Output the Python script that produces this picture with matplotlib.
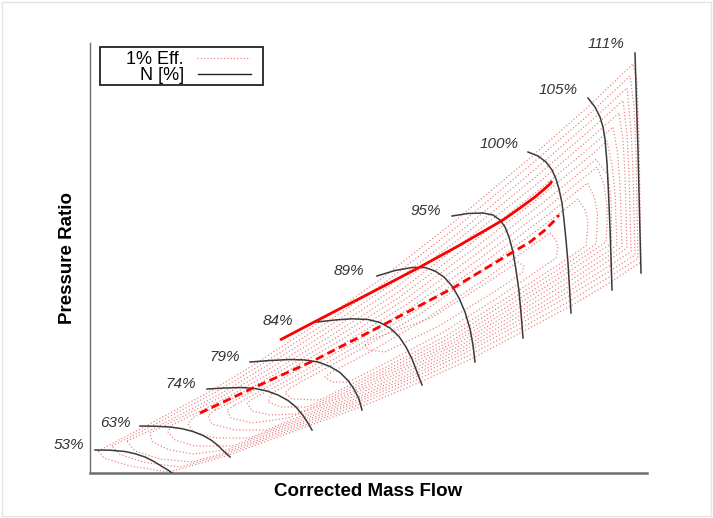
import matplotlib
matplotlib.use('Agg')
import matplotlib.pyplot as plt
from matplotlib.patches import Rectangle
from matplotlib.lines import Line2D

plt.rcParams['font.family'] = ['Liberation Sans', 'DejaVu Sans']

# ---------------- data (flow units, pressure-ratio units) ----------------
speed_names = ['53%', '63%', '74%', '79%', '84%', '89%', '95%', '100%', '105%', '111%']

speed_flow = [
    [5, 20, 35, 45, 55, 64, 72, 78, 82],
    [50, 65, 80, 92, 103, 113, 121, 128, 134, 138, 140],
    [117, 135, 152, 165, 177, 188, 198, 206, 213, 218, 222],
    [160, 180, 200, 215, 228, 240, 250, 258, 264, 269, 272],
    [227, 245, 262, 278, 290, 300, 309, 316, 322, 327, 332],
    [287, 305, 322, 335, 345, 354, 362, 369, 375, 380, 383, 385],
    [362, 378, 393, 403, 410, 415, 419, 423, 426, 429, 431, 433],
    [438, 448, 456, 462, 466, 469, 472, 474, 476, 478, 479.5, 481],
    [498, 505, 510, 513, 515, 517, 518.5, 520, 521, 522],
    [545, 546.5, 548, 549.5, 551],
]
speed_pr = [
    [23, 22.8, 21.5, 19.3, 16, 11.5, 6.5, 3, 0],
    [47, 46.8, 46, 44.3, 41.5, 37.5, 33, 27.5, 21.5, 18, 16],
    [84, 85, 85.5, 84.5, 82, 78, 72.5, 66, 57.5, 50, 43],
    [111, 112.5, 113.5, 113, 111, 106.5, 100.5, 92.5, 84, 74, 63],
    [151, 153, 154.2, 153.5, 150.5, 145, 136.5, 126, 114, 101, 88],
    [197, 202.5, 205.5, 205.5, 202, 196, 187, 175, 161, 144, 128, 111],
    [257, 259.5, 260, 258, 253, 246, 236, 221, 203, 182, 160, 135],
    [321, 317, 311, 303, 294, 284, 270, 253, 233, 210, 185, 160],
    [375, 366, 356, 346, 334, 310, 280, 245, 215, 183],
    [420, 370, 323, 260, 200],
]

# label anchor positions for the speed lines
label_flow = [-21, 25, 91, 135, 188, 259, 336, 409, 468, 516]
label_pr = [28, 50, 89, 116, 152, 202, 262, 329, 383, 429]

# surge line and operating (dashed) line
surge_flow = [190, 230, 290, 330, 370, 413, 430, 445, 455, 460, 462]
surge_pr = [133, 154, 185, 206, 228, 253, 265, 276, 284.5, 289, 292]
oper_flow = [110, 163, 223, 293, 363, 423, 440, 455, 464, 469]
oper_pr = [60, 85, 112, 148, 185, 221, 231, 243, 252, 258]

# 1 % efficiency contours (digitised loops, outer -> inner)
eff_flow = [
    [8, 54, 121, 165, 225, 291, 365, 440, 499, 543, 547, 549, 550, 551,
     521, 479, 430, 381, 328, 268, 218, 136, 79, 40, 14, 8],
    [22, 57, 125, 169, 229, 295, 368, 441, 500, 540, 544, 546, 547, 548,
     520, 478, 428, 378, 324, 264, 215, 133, 90, 55, 30, 22],
    [37, 61, 130, 173, 233, 299, 371, 443, 501, 537, 541, 543, 544, 545,
     520, 477, 426, 375, 321, 261, 212, 131, 102, 70, 45, 37],
    [60, 134, 177.5, 237.5, 303, 373.5, 445, 502, 533, 537, 539, 540, 541,
     519, 476, 424, 372.5, 318, 258, 209, 136, 103, 78, 62, 60],
    [82, 138, 182, 242, 307, 376, 447, 503, 529, 533, 535, 536, 537,
     518, 475, 422, 370, 315, 255, 206, 142, 105, 85, 78, 82],
    [103.5, 142, 186.5, 246.5, 310.5, 379, 448.5, 504, 523, 527.5, 530, 531, 532,
     517.5, 473.5, 420.5, 367.5, 312.5, 252.5, 203.5, 159.5, 125, 103.5, 98, 103.5],
    [125, 146, 191, 251, 314, 382, 450, 505, 517, 522, 525, 526, 527,
     517, 472, 419, 365, 310, 250, 201, 177, 145, 122, 118, 125],
    [145, 195.5, 255.5, 318, 385, 452, 506, 518, 521, 521.5, 521.5,
     516, 471, 417, 363, 307, 247, 198, 162, 141, 137, 145],
    [164, 200, 260, 322, 388, 454, 507, 514, 517, 517, 516,
     470, 415, 361, 304, 244, 206, 180, 162, 157, 164],
    [182, 204.5, 264.5, 326, 390.5, 455.5, 497.5, 504.5, 507.5, 507, 506,
     469, 413.5, 358.5, 301, 241, 217, 191, 178, 182],
    [200, 209, 269, 330, 393, 457, 488, 495, 498, 497, 496,
     468, 412, 356, 298, 238, 229, 202, 195, 200],
    [240, 276, 336, 398, 460, 466, 468, 466, 409, 352, 294, 258, 242, 235, 240],
    [275, 280, 341, 401, 428, 434, 432, 407, 349, 295, 278, 275],
]
eff_pr = [
    [22, 46, 82, 109, 148, 194, 252, 315, 367, 409, 393, 333, 273, 211,
     191, 166, 140, 114, 90, 65, 47, 17, 1, 7, 15, 22],
    [27, 44.5, 80.5, 107, 145.5, 190.5, 247, 308.5, 359.5, 397, 368, 318, 265.5, 214.5,
     196.5, 171, 143.5, 117, 92, 66.5, 48, 18, 6, 10.5, 18.5, 27],
    [32, 43, 79, 105, 143, 187, 242, 302, 352, 385, 343, 303, 258, 218,
     202, 176, 147, 120, 94, 68, 49, 19, 11, 14, 22, 32],
    [40, 77.5, 103, 140.5, 183.5, 237.5, 295.5, 344.5, 372.5, 338, 300.5, 260.5, 221.5,
     207, 180, 150, 122, 95.5, 69, 50, 23, 19, 23.5, 31.5, 40],
    [48, 76, 101, 138, 180, 233, 289, 337, 360, 333, 298, 263, 225,
     212, 184, 153, 124, 97, 70, 51, 27, 27, 33, 41, 48],
    [55.5, 74.5, 99.5, 135.5, 176.5, 228, 282.5, 329, 346, 320.5, 289, 258, 226.5,
     216.5, 188, 156, 126, 99, 71.5, 52, 35, 35, 41, 49, 55.5],
    [63, 73, 98, 133, 173, 223, 276, 321, 332, 308, 280, 253, 228,
     221, 192, 159, 128, 101, 73, 53, 43, 43, 49, 57, 63],
    [68, 96, 130.5, 169.5, 218, 269.5, 313.5, 298, 274, 250.5, 229.5,
     226, 196, 162, 130, 102.5, 74, 55, 50, 55, 63, 68],
    [75, 94, 128, 166, 213, 263, 306, 288, 268, 248, 231,
     200, 165, 132, 104, 75, 59, 58, 62, 70, 75],
    [80, 92, 125.5, 162.5, 208, 256.5, 290, 275.5, 259.5, 243, 229,
     204, 168.5, 134.5, 105.5, 76, 66, 66, 71, 80],
    [85, 90, 123, 159, 203, 250, 274, 263, 251, 238, 227,
     208, 172, 137, 107, 77, 73, 74, 80, 85],
    [100, 119, 154, 196, 240, 233, 225, 215, 176, 140, 109, 91, 91, 96, 100],
    [128, 133, 155, 193, 211, 207, 200, 183, 147, 121, 123, 128],
]

# ---------------- figure ----------------
fig = plt.figure(figsize=(7.13, 5.18), dpi=100)
fig.patches.append(Rectangle((0.003, 0.003), 0.994, 0.994, transform=fig.transFigure,
                             fill=False, edgecolor='#e4e4e4', lw=1.0))
ax = fig.add_axes([90 / 713, 45 / 518, 557 / 713, 430 / 518])
ax.set_xlim(0, 557)
ax.set_ylim(0, 430)

eff_color = '#ec7c7c'
for fx, fy in zip(eff_flow, eff_pr):
    ax.plot(fx, fy, color=eff_color, lw=0.85, linestyle=(0, (1, 1.8)), zorder=1)

for fx, fy in zip(speed_flow, speed_pr):
    ax.plot(fx, fy, color='#3a3a3a', lw=1.1, zorder=3)

ax.plot(surge_flow, surge_pr, color='#ff0000', lw=2.0, zorder=4, solid_capstyle='butt')
ax.plot(oper_flow, oper_pr, color='#ff0000', lw=2.0, linestyle=(0, (3, 1.6)), zorder=4)

for name, lx, ly in zip(speed_names, label_flow, label_pr):
    ax.text(lx, ly, name, fontsize=11, style='italic', color='#333333',
            ha='center', va='center', clip_on=False)

for side in ('top', 'right'):
    ax.spines[side].set_visible(False)
ax.spines['left'].set_color('#6e6e6e')
ax.spines['left'].set_linewidth(1.0)
ax.spines['bottom'].set_color('#6e6e6e')
ax.spines['bottom'].set_linewidth(1.8)
ax.set_xticks([])
ax.set_yticks([])

# legend box (labels right-aligned before the samples, as in the original)
ax.add_patch(Rectangle((10, 388), 163, 38, fill=False, edgecolor='#222222', lw=1.3,
                       zorder=6, clip_on=False))
ax.text(94, 414, '1% Eff.', fontsize=13, ha='right', va='center', zorder=7)
ax.text(94, 398, 'N [%]', fontsize=13, ha='right', va='center', zorder=7)
ax.add_line(Line2D([107, 160], [415, 415], color=eff_color, lw=0.85,
                   linestyle=(0, (1, 1.8)), zorder=7))
ax.add_line(Line2D([108, 161], [399, 399], color='#222222', lw=1.0, zorder=7))

fig.text(368 / 713, 1 - 492 / 518, 'Corrected Mass Flow', fontsize=13.5,
         fontweight='bold', ha='center', va='center')
fig.text(67 / 713, 1 - 258 / 518, 'Pressure Ratio', fontsize=13.5,
         fontweight='bold', ha='center', va='center', rotation=90)

fig.savefig('out.png', dpi=100)
